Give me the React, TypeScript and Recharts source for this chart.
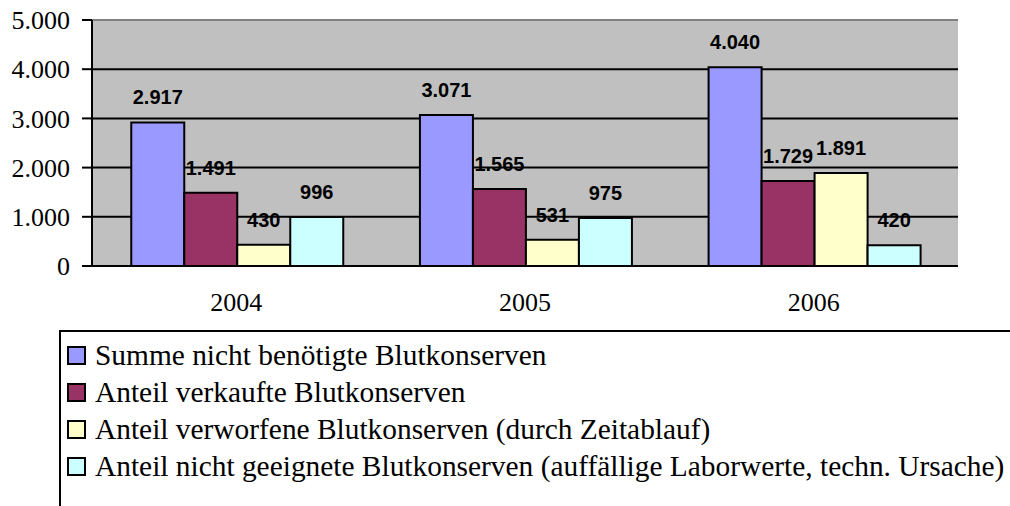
import { BarChart, Bar, XAxis, YAxis, CartesianGrid, LabelList, ReferenceLine } from 'recharts';

const YEARS = ['2004', '2005', '2006'];
const SUMME = [2917, 3071, 4040];
const VERKAUFT = [1491, 1565, 1729];
const VERWORFEN = [430, 531, 1891];
const UNGEEIGNET = [996, 975, 420];
const Y_TICKS = [0, 1000, 2000, 3000, 4000, 5000];
const GRID_VALUES = [1000, 2000, 3000, 4000];
const BOUNDARY_TICKS = [0, 1, 2, 3];

const SERIES = [
  { key: 'summe', name: 'Summe nicht benötigte Blutkonserven', color: '#9999FF' },
  { key: 'verkauft', name: 'Anteil verkaufte Blutkonserven', color: '#993366' },
  { key: 'verworfen', name: 'Anteil verworfene Blutkonserven (durch Zeitablauf)', color: '#FFFFCC' },
  { key: 'ungeeignet', name: 'Anteil nicht geeignete Blutkonserven (auffällige Laborwerte, techn. Ursache)', color: '#CCFFFF' },
];

const data = YEARS.map((year, i) => ({
  year,
  summe: SUMME[i],
  verkauft: VERKAUFT[i],
  verworfen: VERWORFEN[i],
  ungeeignet: UNGEEIGNET[i],
}));

// German thousands separator: 2917 -> "2.917"
const fmt = (v: any) => String(v).replace(/\B(?=(\d{3})+(?!\d))/g, '.');

const SERIF = '"Times New Roman", "Liberation Serif", Tinos, "DejaVu Serif", serif';
const SANS = 'Arial, "Liberation Sans", sans-serif';

const CAT_AXIS_HEIGHT = 60;

export default function App() {
  return (
    <div
      style={{
        position: 'absolute',
        left: 0,
        top: 0,
        width: 1010,
        height: 506,
        overflow: 'hidden',
        background: '#fff',
      }}
    >
      <BarChart
        width={1010}
        height={506}
        data={data}
        margin={{ top: 20, right: 52, bottom: 240 - CAT_AXIS_HEIGHT, left: 0 }}
        barCategoryGap="13.6%"
        barGap={0}
      >
        <CartesianGrid
          vertical={false}
          horizontalValues={GRID_VALUES}
          fill="#C0C0C0"
          fillOpacity={1}
          stroke="#000"
          strokeWidth={2}
        />
        {/* tick marks between the year groups */}
        <XAxis
          xAxisId="ticks"
          type="number"
          domain={[0, 3]}
          ticks={BOUNDARY_TICKS}
          allowDataOverflow
          interval={0}
          tick={false}
          tickSize={8}
          tickLine={{ stroke: '#000', strokeWidth: 2 }}
          axisLine={false}
          height={0}
        />
        <XAxis
          dataKey="year"
          tickLine={false}
          tickSize={0}
          tickMargin={27}
          axisLine={{ stroke: '#000', strokeWidth: 2 }}
          tick={{ fill: '#000', fontSize: 26, fontFamily: SERIF }}
          height={CAT_AXIS_HEIGHT}
        />
        <YAxis
          domain={[0, 5000]}
          ticks={Y_TICKS}
          interval={0}
          allowDataOverflow
          tickFormatter={fmt}
          width={92}
          tickSize={10}
          tickMargin={12}
          axisLine={{ stroke: '#000', strokeWidth: 2 }}
          tickLine={{ stroke: '#000', strokeWidth: 2 }}
          tick={{ fill: '#000', fontSize: 26, fontFamily: SERIF }}
        />
        <YAxis
          yAxisId="right"
          orientation="right"
          domain={[0, 5000]}
          width={0}
          tick={false}
          tickLine={false}
          axisLine={{ stroke: '#808080', strokeWidth: 2 }}
        />
        <ReferenceLine y={5000} stroke="#808080" strokeWidth={2} />
        {SERIES.map((s) => (
          <Bar
            key={s.key}
            dataKey={s.key}
            name={s.name}
            fill={s.color}
            stroke="#000"
            strokeWidth={2}
            isAnimationActive={false}
          >
            <LabelList
              dataKey={s.key}
              position="top"
              offset={18}
              formatter={fmt}
              fill="#000"
              fontSize={20}
              fontWeight={700}
              fontFamily={SANS}
            />
          </Bar>
        ))}
      </BarChart>

      <div
        style={{
          position: 'absolute',
          left: 59,
          top: 330,
          width: 1010,
          height: 200,
          border: '2px solid #000',
          boxSizing: 'border-box',
          paddingTop: 5,
          fontFamily: SERIF,
          fontSize: 29.4,
          color: '#000',
        }}
      >
        {SERIES.map((s) => (
          <div key={s.key} style={{ height: 37, display: 'flex', alignItems: 'center', whiteSpace: 'nowrap' }}>
            <span
              style={{
                display: 'inline-block',
                width: 19,
                height: 19,
                marginLeft: 6,
                marginRight: 9,
                background: s.color,
                border: '2px solid #000',
                boxSizing: 'border-box',
                flexShrink: 0,
              }}
            />
            <span style={{ lineHeight: '37px' }}>{s.name}</span>
          </div>
        ))}
      </div>
    </div>
  );
}
